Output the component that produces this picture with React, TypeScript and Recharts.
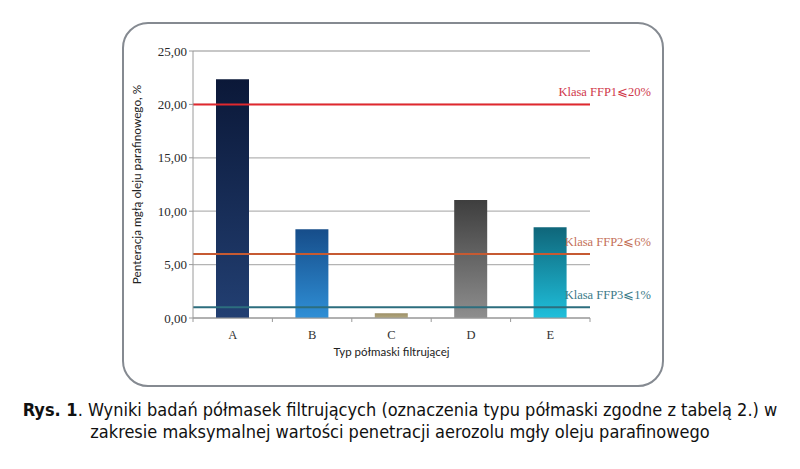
import React from 'react'
import {
  BarChart,
  Bar,
  Cell,
  XAxis,
  YAxis,
  CartesianGrid,
  ReferenceLine,
} from 'recharts'

const categories = ['A', 'B', 'C', 'D', 'E']
const penetration = [22.35, 8.3, 0.45, 11.05, 8.5]
const yTicks = [0, 5, 10, 15, 20, 25]
const limits = [
  { name: 'Klasa FFP1⩽20%', value: 20, color: '#e0282e', text: '#d0384a' },
  { name: 'Klasa FFP2⩽6%', value: 6, color: '#c65a32', text: '#c47058' },
  { name: 'Klasa FFP3⩽1%', value: 1, color: '#2c6e7e', text: '#3a7a88' },
]
const barGradients = [
  ['#0b1838', '#223f72'],
  ['#164d8a', '#2f8fd6'],
  ['#9c8f66', '#b3a880'],
  ['#3e3e3e', '#8e8e8e'],
  ['#0f667a', '#1fbfdb'],
]

const data = categories.map((c, i) => ({ type: c, value: penetration[i] }))

const serif = '"Liberation Serif", "DejaVu Serif", serif'
const sans = 'Lato, "Liberation Sans", sans-serif'

const CategoryTick = (props: any) => {
  const { x, y, payload, index } = props
  const half = payload.offset ?? 0
  return (
    <g>
      <line x1={x - half} y1={y - 8} x2={x - half} y2={y - 4} stroke="#9a9a9a" />
      {index === categories.length - 1 && (
        <line x1={x + half} y1={y - 8} x2={x + half} y2={y - 4} stroke="#9a9a9a" />
      )}
      <text x={x} y={y + 13} textAnchor="middle" fontFamily={serif} fontSize={12.5} fill="#333">
        {payload.value}
      </text>
    </g>
  )
}

export default function App() {
  return (
    <div style={{ position: 'absolute', left: 0, top: 0, width: 800, height: 469, background: '#fff' }}>
      <div
        style={{
          position: 'absolute',
          left: 122,
          top: 22,
          width: 538,
          height: 361,
          border: '2px solid #858a91',
          borderRadius: 26,
        }}
      />
      <div style={{ position: 'absolute', left: 0, top: 0 }}>
        <BarChart
          width={800}
          height={400}
          data={data}
          margin={{ top: 51, right: 210, bottom: 62, left: 133 }}
          barSize={33}
        >
          <defs>
            {barGradients.map((g, i) => (
              <linearGradient key={i} id={`bar${i}`} x1="0" y1="0" x2="0" y2="1">
                <stop offset="0" stopColor={g[0]} />
                <stop offset="1" stopColor={g[1]} />
              </linearGradient>
            ))}
          </defs>
          <CartesianGrid vertical={false} stroke="#b4b4b4" strokeWidth={1.3} />
          <XAxis
            dataKey="type"
            axisLine={{ stroke: '#9a9a9a' }}
            tickLine={false}
            tick={<CategoryTick />}
            height={20}
            interval={0}
            label={{
              value: 'Typ półmaski filtrującej',
              position: 'insideBottom',
              offset: -18,
              fontFamily: sans,
              fontSize: 11.5,
              fill: '#222',
            }}
          />
          <YAxis
            domain={[0, 25]}
            ticks={yTicks}
            width={60}
            axisLine={{ stroke: '#9a9a9a' }}
            tickLine={{ stroke: '#9a9a9a' }}
            tickSize={4}
            tick={{ fontFamily: serif, fontSize: 13, fill: '#2a2a2a' }}
            tickFormatter={(v: number) => v.toFixed(2).replace('.', ',')}
            label={{
              value: 'Penteracja mgłą oleju parafinowego, %',
              angle: -90,
              position: 'insideLeft',
              offset: 4,
              fontFamily: sans,
              fontSize: 11.8,
              fill: '#222',
              style: { textAnchor: 'middle' },
            }}
          />
          <Bar dataKey="value" isAnimationActive={false}>
            {data.map((d, i) => (
              <Cell key={d.type} fill={`url(#bar${i})`} />
            ))}
          </Bar>
          {limits.map((l) => (
            <ReferenceLine
              key={l.name}
              y={l.value}
              stroke={l.color}
              strokeWidth={2}
              label={(p: any) => {
                const vb = p.viewBox
                return (
                  <text
                    x={vb.x + vb.width + 61}
                    y={vb.y - 8}
                    textAnchor="end"
                    fontFamily={serif}
                    fontSize={12.5}
                    fill={l.text}
                  >
                    {l.name}
                  </text>
                )
              }}
            />
          ))}
        </BarChart>
      </div>
      <div
        style={{
          position: 'absolute',
          left: 0,
          top: 399,
          width: 800,
          textAlign: 'center',
          fontFamily: '"DejaVu Sans Condensed", "DejaVu Sans", sans-serif',
          fontSize: 18,
          lineHeight: '22px',
          color: '#111',
        }}
      >
        <b>Rys. 1</b>. Wyniki badań półmasek filtrujących (oznaczenia typu półmaski zgodne z tabelą 2.) w
        <br />
        zakresie maksymalnej wartości penetracji aerozolu mgły oleju parafinowego
      </div>
    </div>
  )
}
